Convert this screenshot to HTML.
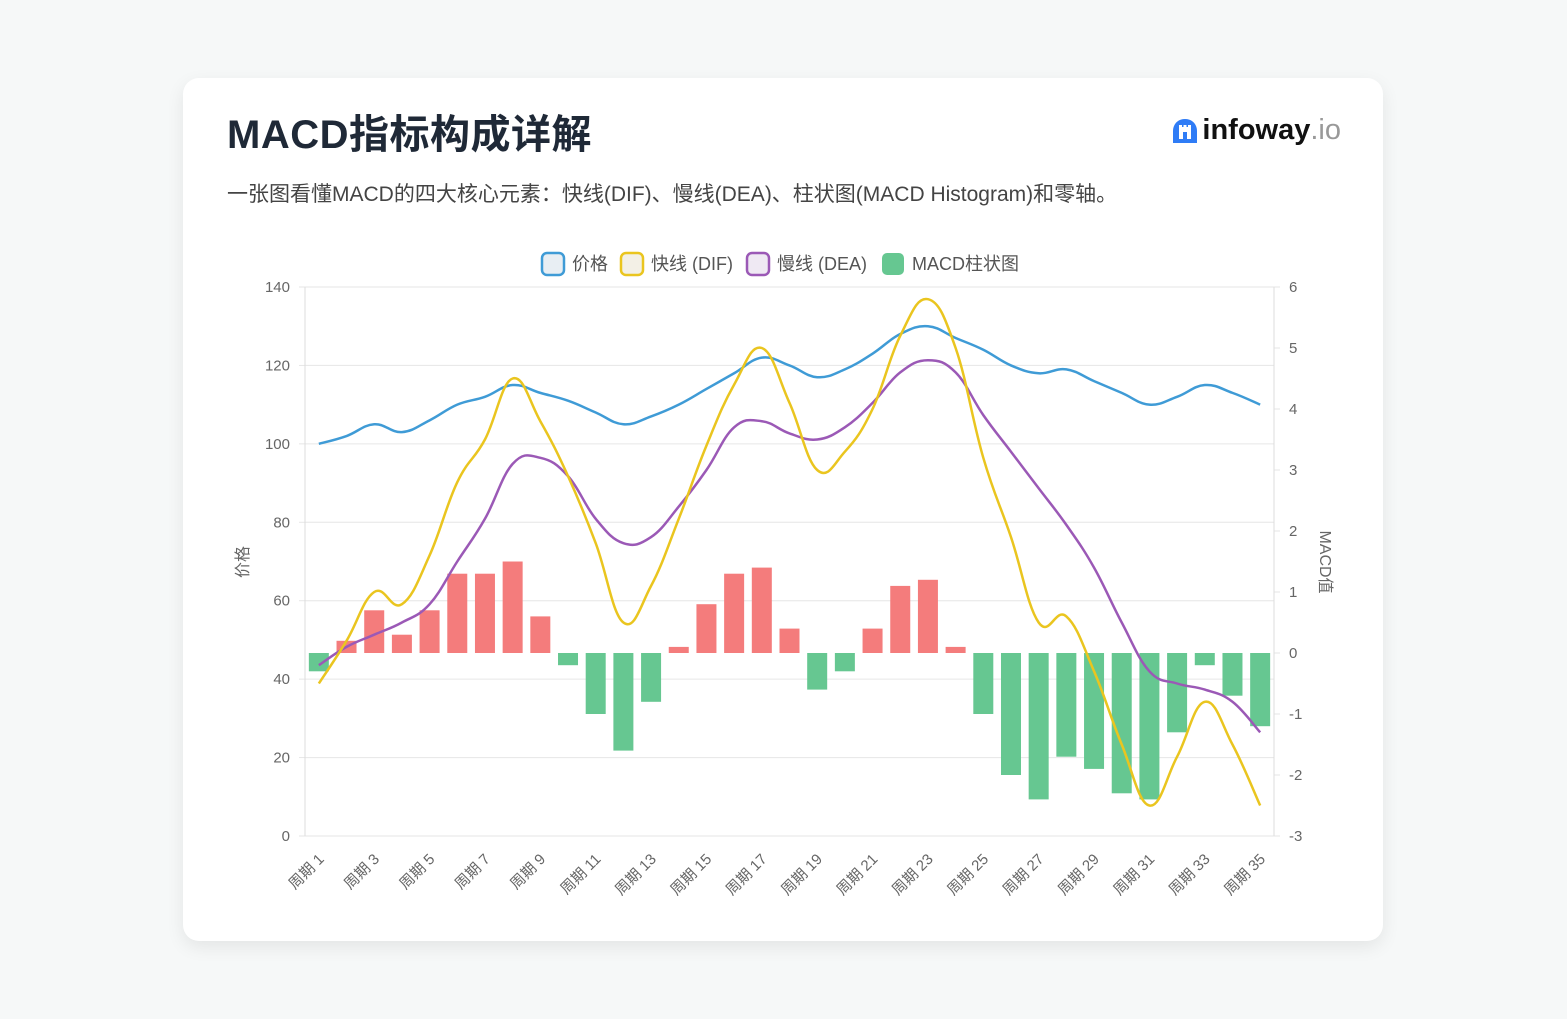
<!DOCTYPE html>
<html><head><meta charset="utf-8">
<style>
body{margin:0;width:1567px;height:1019px;background:#f6f8f8;font-family:"Liberation Sans","Noto Sans CJK SC",sans-serif;overflow:hidden}
.card{position:absolute;left:183px;top:78px;width:1200px;height:863px;background:#fff;border-radius:16px;box-shadow:0 6px 18px rgba(0,0,0,0.08)}
h1{position:absolute;left:44px;top:24px;margin:0;font-size:40px;font-weight:bold;color:#1f2937;font-family:"Liberation Sans","Noto Sans CJK SC",sans-serif;letter-spacing:0.5px}
.sub{position:absolute;left:44px;top:100px;font-size:21px;color:#444}
.logo{position:absolute;right:42px;top:36px;font-size:29px;font-weight:bold;color:#111;display:flex;align-items:center}
.logo .io{font-weight:normal;color:#999}
svg{position:absolute;left:0;top:0}
</style></head><body>
<div class="card">
<h1>MACD指标构成详解</h1>
<div class="sub">一张图看懂MACD的四大核心元素：快线(DIF)、慢线(DEA)、柱状图(MACD Histogram)和零轴。</div>
<div class="logo"><svg width="26" height="26" viewBox="0 0 26 26" style="position:static;margin-right:4px"><path d="M13 1C6 1 1 6 1 13v12h24V13C25 6 20 1 13 1z" fill="#2f7cf6"/><rect x="7" y="9" width="12" height="12" fill="#fff"/><rect x="7" y="7" width="3" height="3" fill="#fff"/><rect x="11.5" y="7" width="3" height="3" fill="#fff"/><rect x="16" y="7" width="3" height="3" fill="#fff"/><rect x="11" y="14" width="4" height="7" fill="#2f7cf6"/></svg>infoway<span class="io">.io</span></div>
</div>
<svg id="c" width="1567" height="1019" font-family="Liberation Sans, Noto Sans CJK SC, sans-serif"></svg>
<script>
const L=305,R=1274,T=287,B=836,N=35,cw=(R-L)/N;
const X=i=>L+cw/2+i*cw, YL=v=>B-v*(B-T)/140, YR=v=>B-(v+3)*(B-T)/9;
const price=[100,102,105,103,106,110,112,115,113,111,108,105,107,110,114,118,122,120,117,119,123,128,130,127,124,120,118,119,116,113,110,112,115,113,110];
const hist=[-0.3,0.2,0.7,0.3,0.7,1.3,1.3,1.5,0.6,-0.2,-1.0,-1.6,-0.8,0.1,0.8,1.3,1.4,0.4,-0.6,-0.3,0.4,1.1,1.2,0.1,-1.0,-2.0,-2.4,-1.7,-1.9,-2.3,-2.4,-1.3,-0.2,-0.7,-1.2];
const dif=[-0.5,0.2,1.0,0.8,1.6,2.8,3.5,4.5,3.8,2.9,1.8,0.5,1.1,2.2,3.4,4.4,5.0,4.1,3.0,3.3,4.0,5.2,5.8,5.0,3.2,1.9,0.5,0.6,-0.3,-1.5,-2.5,-1.7,-0.8,-1.5,-2.5];
const dea=[-0.2,0.1,0.3,0.5,0.8,1.5,2.2,3.1,3.2,2.9,2.2,1.8,1.9,2.4,3.0,3.7,3.8,3.6,3.5,3.7,4.1,4.6,4.8,4.6,3.9,3.3,2.7,2.1,1.4,0.5,-0.3,-0.5,-0.6,-0.8,-1.3];
let s='';
for(let k=0;k<=7;k++){let y=YL(k*20);s+=`<line x1="${L}" x2="${R}" y1="${y}" y2="${y}" stroke="#e6e6e6"/><text x="${L-15}" y="${y+5}" text-anchor="end" font-size="15" fill="#666">${k*20}</text><line x1="${L-6}" x2="${L}" y1="${y}" y2="${y}" stroke="#e6e6e6"/>`}
for(let k=-3;k<=6;k++){let y=YR(k);s+=`<line x1="${R}" x2="${R+6}" y1="${y}" y2="${y}" stroke="#e6e6e6"/><text x="${R+15}" y="${y+5}" font-size="15" fill="#666">${k}</text>`}
s+=`<line x1="${L}" x2="${L}" y1="${T}" y2="${B}" stroke="#ddd"/><line x1="${R}" x2="${R}" y1="${T}" y2="${B}" stroke="#ddd"/>`;
s+=`<text transform="translate(248,562) rotate(-90)" text-anchor="middle" font-size="16" fill="#666">价格</text>`;
s+=`<text transform="translate(1320,562) rotate(90)" text-anchor="middle" font-size="16" fill="#666">MACD值</text>`;
for(let i=0;i<N;i++){let y0=YR(0),y1=YR(hist[i]);let pos=hist[i]>=0;s+=`<rect x="${X(i)-10}" y="${Math.min(y0,y1)}" width="20" height="${Math.abs(y1-y0)}" fill="${pos?'#f47c7c':'#66c791'}"/>`}
for(let i=0;i<N;i+=2){let x=X(i),y=B+24;s+=`<text transform="translate(${x+6},${y}) rotate(-45)" text-anchor="end" font-size="15" fill="#666">周期 ${i+1}</text>`}
function path(vals,f){const p=vals.map((v,i)=>[X(i),f(v)]);let d=`M${p[0][0]},${p[0][1]}`;const t=0.4;
for(let i=0;i<p.length-1;i++){const p0=p[i-1]||p[i],p1=p[i],p2=p[i+1],p3=p[i+2]||p2;
const c1=[p1[0]+(p2[0]-p0[0])*t/2,p1[1]+(p2[1]-p0[1])*t/2],c2=[p2[0]-(p3[0]-p1[0])*t/2,p2[1]-(p3[1]-p1[1])*t/2];
d+=`C${c1[0]},${c1[1]} ${c2[0]},${c2[1]} ${p2[0]},${p2[1]}`}return d}
s+=`<path d="${path(price,YL)}" fill="none" stroke="#3f9bd6" stroke-width="2.5"/>`;
s+=`<path d="${path(dea,YR)}" fill="none" stroke="#9b59b6" stroke-width="2.5"/>`;
s+=`<path d="${path(dif,YR)}" fill="none" stroke="#eac51f" stroke-width="2.5"/>`;
const lg=[[542,'价格','#3f9bd6','#e8eef3'],[621,'快线 (DIF)','#eac51f','#f3f0e6'],[747,'慢线 (DEA)','#9b59b6','#efe9f3']];
lg.forEach(a=>{s+=`<rect x="${a[0]}" y="253" width="22" height="22" rx="5" fill="${a[3]}" stroke="${a[2]}" stroke-width="2.5"/><text x="${a[0]+30}" y="270" font-size="18" fill="#555">${a[1]}</text>`});
s+=`<rect x="882" y="253" width="22" height="22" rx="5" fill="#66c791"/><text x="912" y="270" font-size="18" fill="#555">MACD柱状图</text>`;
document.getElementById('c').innerHTML=s;
</script>
</body></html>
